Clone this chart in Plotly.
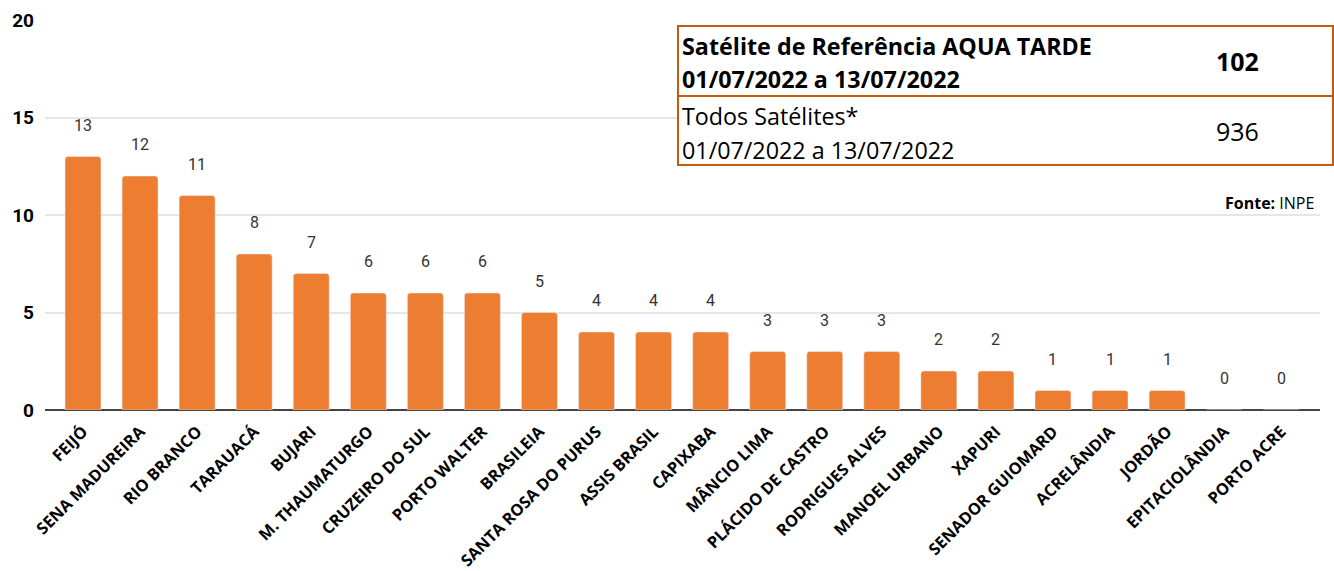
import plotly.graph_objects as go

categories = ["FEIJÓ", "SENA MADUREIRA", "RIO BRANCO", "TARAUACÁ", "BUJARI", "M. THAUMATURGO",
              "CRUZEIRO DO SUL", "PORTO WALTER", "BRASILEIA", "SANTA ROSA DO PURUS", "ASSIS BRASIL",
              "CAPIXABA", "MÂNCIO LIMA", "PLÁCIDO DE CASTRO", "RODRIGUES ALVES", "MANOEL URBANO",
              "XAPURI", "SENADOR GUIOMARD", "ACRELÂNDIA", "JORDÃO", "EPITACIOLÂNDIA", "PORTO ACRE"]
values = [13, 12, 11, 8, 7, 6, 6, 6, 5, 4, 4, 4, 3, 3, 3, 2, 2, 1, 1, 1, 0, 0]
y_ticks = [0, 5, 10, 15, 20]

table_rows = [
    ("<b>Satélite de Referência AQUA TARDE</b>", "<b>01/07/2022 a 13/07/2022</b>", "<b>102</b>"),
    ("Todos Satélites*", "01/07/2022 a 13/07/2022", "936"),
]

W, H = 1334, 571
L, R, T, B = 45, 14, 20, 161
pw, ph = W - L - R, H - T - B

def px(x):
    return (x - L) / pw

def py(y):
    return (H - B - y) / ph

ORANGE = "#ED7D31"
BORDER = "#C55A11"

fig = go.Figure()
fig.add_trace(go.Bar(
    x=list(range(len(categories))), y=values,
    marker=dict(color=ORANGE, cornerradius=3),
    width=0.63, hoverinfo="skip",
))

for i, v in enumerate(values):
    fig.add_annotation(x=i, y=v, text=str(v), showarrow=False, yanchor="bottom",
                       yshift=20, font=dict(family="Roboto", size=16, color="#333333"))

shapes = []
bx0, bx1, by0, by1, bmid = 678, 1333, 26, 165, 96
shapes.append(dict(type="rect", xref="paper", yref="paper", x0=px(bx0), x1=px(bx1),
                   y0=py(by1), y1=py(by0), line=dict(color=BORDER, width=2), fillcolor="white",
                   layer="above"))
shapes.append(dict(type="line", xref="paper", yref="paper", x0=px(bx0), x1=px(bx1),
                   y0=py(bmid), y1=py(bmid), line=dict(color=BORDER, width=2), layer="above"))

row_lines = [(46, 79, 61), (116, 150, 131)]
for (l1, l2, val), (y1, y2, yc) in zip(table_rows, row_lines):
    fig.add_annotation(xref="paper", yref="paper", x=px(680), y=py(y1), text=l1, showarrow=False,
                       xanchor="left", yanchor="middle", font=dict(family="Open Sans", size=23.3, color="#000"))
    fig.add_annotation(xref="paper", yref="paper", x=px(680), y=py(y2), text=l2, showarrow=False,
                       xanchor="left", yanchor="middle", font=dict(family="Open Sans", size=23.3, color="#000"))
    fig.add_annotation(xref="paper", yref="paper", x=px(1237), y=py(yc), text=val, showarrow=False,
                       xanchor="center", yanchor="middle", font=dict(family="Open Sans", size=25, color="#000"))

fig.add_annotation(xref="paper", yref="paper", x=px(1316), y=py(203), text="<b>Fonte:</b> INPE",
                   showarrow=False, xanchor="right", yanchor="middle",
                   font=dict(family="Open Sans", size=16, color="#000"))

fig.update_layout(
    width=W, height=H, margin=dict(l=L, r=R, t=T, b=B, autoexpand=False),
    plot_bgcolor="white", paper_bgcolor="white", showlegend=False, shapes=shapes,
    xaxis=dict(tickmode="array", tickvals=list(range(len(categories))), ticktext=categories,
               range=[-0.666, 21.68], tickangle=-45, showgrid=False, zeroline=False,
               showline=False, tickfont=dict(family="Open Sans", size=16.3, color="#000", weight="bold"),
               ticks="", ticklabelstandoff=8, automargin=False),
    yaxis=dict(range=[0, 20], tickvals=y_ticks, showgrid=True, gridcolor="#e6e6e6", gridwidth=1.5,
               zeroline=True, zerolinecolor="#444444", zerolinewidth=1.5, ticks="", automargin=False,
               tickfont=dict(family="Roboto", size=19, color="#000", weight="bold"), ticklabelstandoff=10),
)

fig.write_html("out.html", config={"displayModeBar": False},
               post_script="document.body.style.margin='0';document.body.style.overflow='hidden';")
